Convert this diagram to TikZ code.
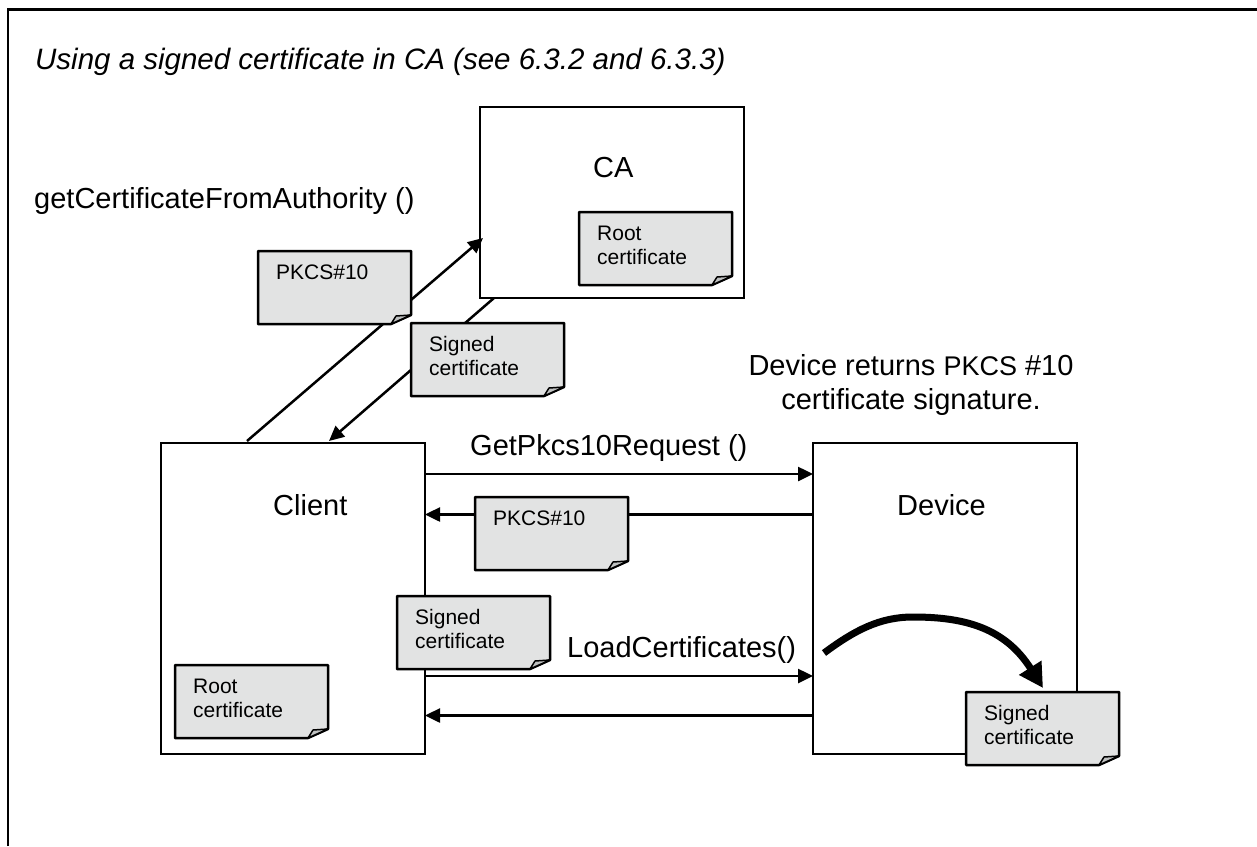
\documentclass[tikz,border=0pt]{standalone}
\usepackage{fontspec}
\setmainfont{Liberation Sans}
\usetikzlibrary{arrows.meta,calc}
\definecolor{notegray}{HTML}{E2E3E3}
\definecolor{flapgray}{HTML}{BFC1C1}
\tikzset{
  x=1pt,y=-1pt,
  box/.style={draw=black,line width=2.5pt,fill=white,rectangle,minimum width=264pt,minimum height=311pt,inner sep=0pt,outer sep=0pt},
  cabox/.style={box,minimum height=191pt},
  conn/.style={draw=black,line width=2.5pt,-{Triangle[length=15pt,width=14pt]},shorten >=0pt},
  thickarrow/.style={line width=7pt,-{Triangle[length=24pt,width=25pt]}},
  bigtext/.style={anchor=base west,font=\fontsize{29}{34}\selectfont,inner sep=0pt},
  notetext/.style={anchor=base west,font=\fontsize{21}{23.4}\selectfont,inner sep=0pt,align=left},
  noteline/.style={draw=black,line width=2.5pt,line join=round},
}
% #1 name, #2 left, #3 top, #4 baseline offset of the last line, #5 text
\newcommand{\notebox}[5]{%
  \draw[noteline,fill=notegray] (#2,#3) -- (#2+153,#3) -- (#2+153,#3+64) -- (#2+133,#3+73) -- (#2,#3+73) -- cycle;
  \draw[noteline,line width=1.5pt,fill=flapgray] (#2+133,#3+73) -- (#2+138,#3+65) -- (#2+153,#3+64) -- cycle;
  \node[notetext] (#1) at (#2+18,#3+#4) {#5};
}
\begin{document}
\begin{tikzpicture}
\useasboundingbox (0,0) rectangle (1257,846);
\fill[white] (0,0) rectangle (1257,846);
\draw[line width=2.5pt,line cap=butt] (8,846) -- (8,9.5) -- (1257,9.5);
\node[cabox,anchor=north west] (ca) at (480,107) {};
\node[box,anchor=north west] (client) at (161,443) {};
\node[box,anchor=north west] (device) at (813,443) {};
\draw[conn] ($(client.north west)+(86,-2)$) -- ($(ca.north west)+(3,131)$);
\draw[conn] ($(ca.south west)+(14,0)$) -- ($(client.north west)+(168,-2)$);
\draw[conn] ($(client.north east)+(0,31)$) -- ($(device.north west)+(0,31)$);
\draw[conn] ($(device.north west)+(0,71.5)$) -- ($(client.north east)+(0,71.5)$);
\draw[conn] ($(client.north east)+(0,233)$) -- ($(device.north west)+(0,233)$);
\draw[conn] ($(device.north west)+(0,272.5)$) -- ($(client.north east)+(0,272.5)$);
\notebox{rootca}{579}{212}{52}{Root\\certificate}
\notebox{pkcsup}{258}{251}{28}{PKCS\#10}
\notebox{signedup}{411}{323}{52}{Signed\\certificate}
\notebox{pkcsmid}{475}{497}{28}{PKCS\#10}
\notebox{signedmid}{397}{596}{52}{Signed\\certificate}
\notebox{rootclient}{175}{665}{52}{Root\\certificate}
\notebox{signeddev}{966}{692}{52}{Signed\\certificate}
\coordinate (curvestart) at (824,653);
\coordinate (curvepeak) at (913,617);
\draw[thickarrow] (curvestart) .. controls (855,630) and (880,617) .. (curvepeak) .. controls (965,617) and (1005,628) .. ($(signeddev.base west)+(59,-56)$);
\node[anchor=base west,inner sep=0pt,font=\itshape\fontsize{29.5}{34}\selectfont] (title) at (35,69) {Using a signed certificate in CA (see 6.3.2 and 6.3.3)};
\node[bigtext] (getca) at (34,208) {getCertificateFromAuthority ()};
\node[bigtext] (calabel) at (593,177) {CA};
\node[bigtext] (clientlabel) at (273,515) {Client};
\node[bigtext] (devicelabel) at (897,515) {Device};
\node[bigtext] (getpk) at (470,455) {GetPkcs10Request ()};
\node[bigtext] (loadc) at (567,657) {LoadCertificates()};
\node[font=\fontsize{29}{34}\selectfont,align=center,inner sep=0pt,anchor=base] (devret) at (911,409) {Device returns {\fontsize{27}{34}\selectfont PKCS} \#10\\certificate signature.};
\end{tikzpicture}
\end{document}
